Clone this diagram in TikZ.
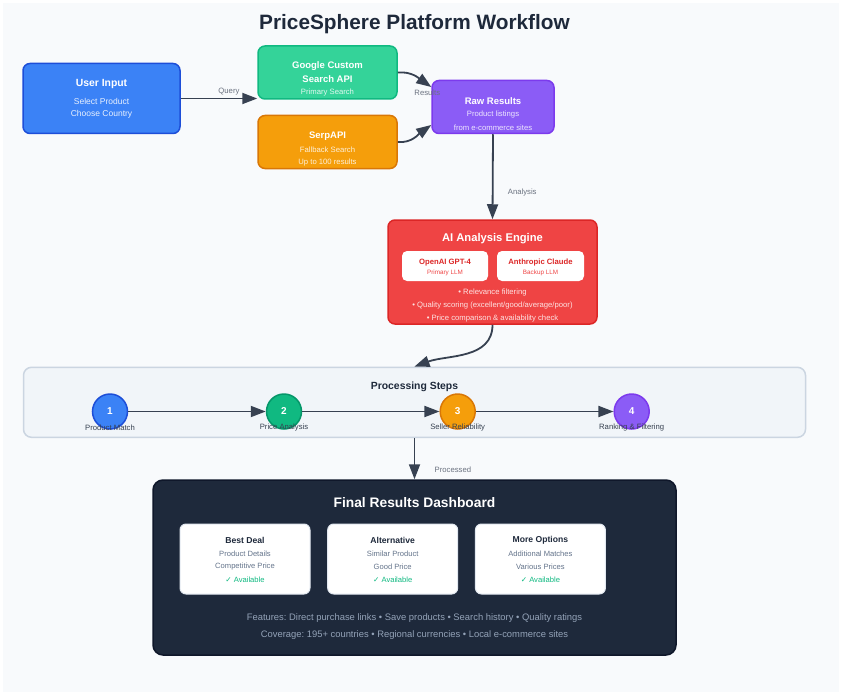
\documentclass[tikz,border=0pt]{standalone}
\usepackage{fontspec}
\setmainfont{Liberation Sans}
\newfontfamily\symbolfont{DejaVu Sans}
\usetikzlibrary{arrows.meta,positioning}

\definecolor{bgc}{HTML}{F8FAFC}
\definecolor{ink}{HTML}{374151}
\definecolor{labelgray}{HTML}{6B7280}
\definecolor{titlec}{HTML}{1E293B}
\definecolor{blueF}{HTML}{3B82F6}\definecolor{blueD}{HTML}{1D4ED8}
\definecolor{greenL}{HTML}{34D399}\definecolor{greenF}{HTML}{10B981}\definecolor{greenD}{HTML}{059669}
\definecolor{orangeF}{HTML}{F59E0B}\definecolor{orangeD}{HTML}{D97706}
\definecolor{purpleF}{HTML}{8B5CF6}\definecolor{purpleD}{HTML}{7C3AED}
\definecolor{redF}{HTML}{EF4444}\definecolor{redD}{HTML}{DC2626}
\definecolor{panelF}{HTML}{F1F5F9}\definecolor{panelD}{HTML}{CBD5E1}
\definecolor{darkF}{HTML}{1E293B}\definecolor{darkD}{HTML}{0F172A}
\definecolor{cardD}{HTML}{E2E8F0}
\definecolor{slate}{HTML}{64748B}
\definecolor{slateL}{HTML}{94A3B8}

\tikzset{
    box/.style={rounded corners=7pt, line width=1.5pt, inner sep=0pt},
    flow/.style={ink, line width=1.8pt, -{Triangle[length=15pt,width=11pt]}},
    txt/.style={yshift=-1.3pt},
    lbl/.style={txt, text=labelgray, font=\fontsize{7.7}{9}\selectfont},
    head/.style={txt, text=white, font=\bfseries\fontsize{9.5}{11}\selectfont},
    sub/.style={txt, font=\fontsize{7.7}{9}\selectfont},
    stepdot/.style={circle, minimum size=35pt, inner sep=0pt, line width=1.5pt,
        text=white, font=\bfseries\fontsize{10}{12}\selectfont},
    steplbl/.style={txt, text=ink, font=\fontsize{7.7}{9}\selectfont},
    card/.style={box, rounded corners=6pt, line width=1pt, fill=white, draw=cardD,
        minimum width=130pt, minimum height=70pt},
    cardhead/.style={txt, text=titlec, font=\bfseries\fontsize{8.6}{10}\selectfont},
    cardsub/.style={txt, text=slate, font=\fontsize{7.6}{9}\selectfont},
    cardok/.style={txt, text=greenF, font=\fontsize{7.6}{9}\selectfont}
}

\begin{document}
\frenchspacing
\begin{tikzpicture}[x=1pt, y=-1pt]
    \useasboundingbox (0,0) rectangle (842,695);
    \fill[white] (0,0) rectangle (842,695);
    \fill[bgc] (3,3) rectangle (839,692);

    \node (title) at (414.5,22.5) [txt, text=titlec, font=\bfseries\fontsize{20.8}{24}\selectfont]
        {PriceSphere Platform Workflow};

    % input and search sources
    \node (ui) at (101.5,98.5) [box, fill=blueF, draw=blueD, minimum width=157pt, minimum height=70pt]{};
    \node (gcs) at (327.5,72.5) [box, fill=greenL, draw=greenF, minimum width=139pt, minimum height=53pt]{};
    \node (serp) at (327.5,142) [box, fill=orangeF, draw=orangeD, minimum width=139pt, minimum height=53pt]{};
    \node (raw) at (493,107) [box, fill=purpleF, draw=purpleD, minimum width=122pt, minimum height=53pt]{};

    \node (ui-t) at (101.5,82.3) [head, font=\bfseries\fontsize{10.4}{12}\selectfont]{User Input};
    \node (ui-a) at (101.5,100) [sub, text=white!88!blueF, font=\fontsize{8.5}{10}\selectfont]{Select Product};
    \node (ui-b) at (101.5,113) [sub, text=white!88!blueF, font=\fontsize{8.5}{10}\selectfont]{Choose Country};

    \node (gcs-t) at (327.5,65) [head]{Google Custom};
    \node (gcs-u) at (327.5,78) [head]{Search API};
    \node (gcs-a) at (327.5,91.3) [sub, text=white!85!greenL]{Primary Search};

    \node (serp-t) at (327.5,135) [head]{SerpAPI};
    \node (serp-a) at (327.5,148.5) [sub, text=white!85!orangeF]{Fallback Search};
    \node (serp-b) at (327.5,161.5) [sub, text=white!85!orangeF]{Up to 100 results};

    \node (raw-t) at (493,100) [head]{Raw Results};
    \node (raw-a) at (493,113.5) [sub, text=white!85!purpleF]{Product listings};
    \node (raw-b) at (493,126.5) [sub, text=white!85!purpleF]{from e-commerce sites};

    \draw [flow] (ui.east) -- (ui.east -| gcs.west) node[pos=0.63, above=0pt, lbl]{Query};
    \draw [flow] (gcs.east) to[out=5, in=145] ([yshift=20pt]raw.west);
    \draw [flow] (serp.east) to[out=-5, in=-145] ([yshift=-18pt]raw.west);
    \node (res) at (427.3,91.3) [lbl]{Results};

    % analysis engine
    \node (ai) at (492.5,272) [box, fill=redF, draw=redD, minimum width=209pt, minimum height=104pt]{};
    \node (ai-t) at (492.5,237.5) [head, font=\bfseries\fontsize{11.2}{13}\selectfont]{AI Analysis Engine};
    \node (gpt) at (445,266) [box, rounded corners=5pt, fill=white, draw=none, minimum width=86pt, minimum height=30pt]{};
    \node (claude) at (540.5,266) [box, rounded corners=5pt, fill=white, draw=none, minimum width=87pt, minimum height=30pt]{};
    \node (gpt-t) at (445,261.5) [txt, text=redD, font=\bfseries\fontsize{7.7}{9}\selectfont]{OpenAI GPT-4};
    \node (gpt-a) at (445,271.7) [txt, text=redF, font=\fontsize{6.3}{8}\selectfont]{Primary LLM};
    \node (claude-t) at (540.5,261.5) [txt, text=redD, font=\bfseries\fontsize{7.7}{9}\selectfont]{Anthropic Claude};
    \node (claude-a) at (540.5,271.7) [txt, text=redF, font=\fontsize{6.3}{8}\selectfont]{Backup LLM};
    \node (ai-a) at (492.5,291.3) [sub, text=white!85!redF]{• Relevance filtering};
    \node (ai-b) at (492.5,304.5) [sub, text=white!85!redF]{• Quality scoring (excellent/good/average/poor)};
    \node (ai-c) at (492.5,317.3) [sub, text=white!85!redF]{• Price comparison \& availability check};

    \draw [flow] (raw.south) -- (ai.north) node[pos=0.67, right=11pt, lbl]{Analysis};

    % processing steps
    \node (steps) at (414.5,402.3) [box, rounded corners=8pt, fill=panelF, draw=panelD, minimum width=782pt, minimum height=70pt]{};
    \node (steps-t) at (414.5,386) [txt, text=titlec, font=\bfseries\fontsize{10.4}{12}\selectfont]{Processing Steps};
    \draw [flow] (ai.south) to[out=-90, in=20] (steps.north);

    \node (s1) at (110,411.5) [stepdot, fill=blueF, draw=blueD]{1};
    \node (s2) at (284,411.5) [stepdot, fill=greenF, draw=greenD]{2};
    \node (s3) at (457.7,411.5) [stepdot, fill=orangeF, draw=orangeD]{3};
    \node (s4) at (631.7,411.5) [stepdot, fill=purpleF, draw=purpleD]{4};
    \draw [flow] (s1) -- (s2);
    \draw [flow] (s2) -- (s3);
    \draw [flow] (s3) -- (s4);
    \node (s1-l) at (110,426.3) [steplbl]{Product Match};
    \node (s2-l) at (284,426.3) [steplbl]{Price Analysis};
    \node (s3-l) at (457.7,426.3) [steplbl]{Seller Reliability};
    \node (s4-l) at (631.7,426.3) [steplbl]{Ranking \& Filtering};

    % results dashboard
    \node (dash) at (414.5,567.5) [box, rounded corners=10pt, fill=darkF, draw=darkD, minimum width=523pt, minimum height=175pt]{};
    \draw [flow] (steps.south) -- (dash.north) node[pos=0.73, right=16pt, lbl]{Processed};
    \node (dash-t) at (414.5,501.7) [txt, text=white, font=\bfseries\fontsize{13.8}{16}\selectfont]{Final Results Dashboard};

    \node (c1) at (245,559) [card]{};
    \node (c2) at (392.7,559) [card]{};
    \node (c3) at (540.4,559) [card]{};
    \node (c1-t) at (245,539) [cardhead]{Best Deal};
    \node (c1-a) at (245,552.3) [cardsub]{Product Details};
    \node (c1-b) at (245,565.3) [cardsub]{Competitive Price};
    \node (c1-c) at (245,578.3) [cardok]{{\symbolfont ✓} Available};
    \node (c2-t) at (392.7,539) [cardhead]{Alternative};
    \node (c2-a) at (392.7,552.3) [cardsub]{Similar Product};
    \node (c2-b) at (392.7,565.3) [cardsub]{Good Price};
    \node (c2-c) at (392.7,578.3) [cardok]{{\symbolfont ✓} Available};
    \node (c3-t) at (540.4,539) [cardhead]{More Options};
    \node (c3-a) at (540.4,552.3) [cardsub]{Additional Matches};
    \node (c3-b) at (540.4,565.3) [cardsub]{Various Prices};
    \node (c3-c) at (540.4,578.3) [cardok]{{\symbolfont ✓} Available};

    \node (feat) at (414.5,617) [txt, text=slateL, font=\fontsize{9.4}{11}\selectfont]
        {Features: Direct purchase links • Save products • Search history • Quality ratings};
    \node (cover) at (414.5,633.7) [txt, text=slateL, font=\fontsize{9.4}{11}\selectfont]
        {Coverage: 195+ countries • Regional currencies • Local e-commerce sites};
\end{tikzpicture}
\end{document}
